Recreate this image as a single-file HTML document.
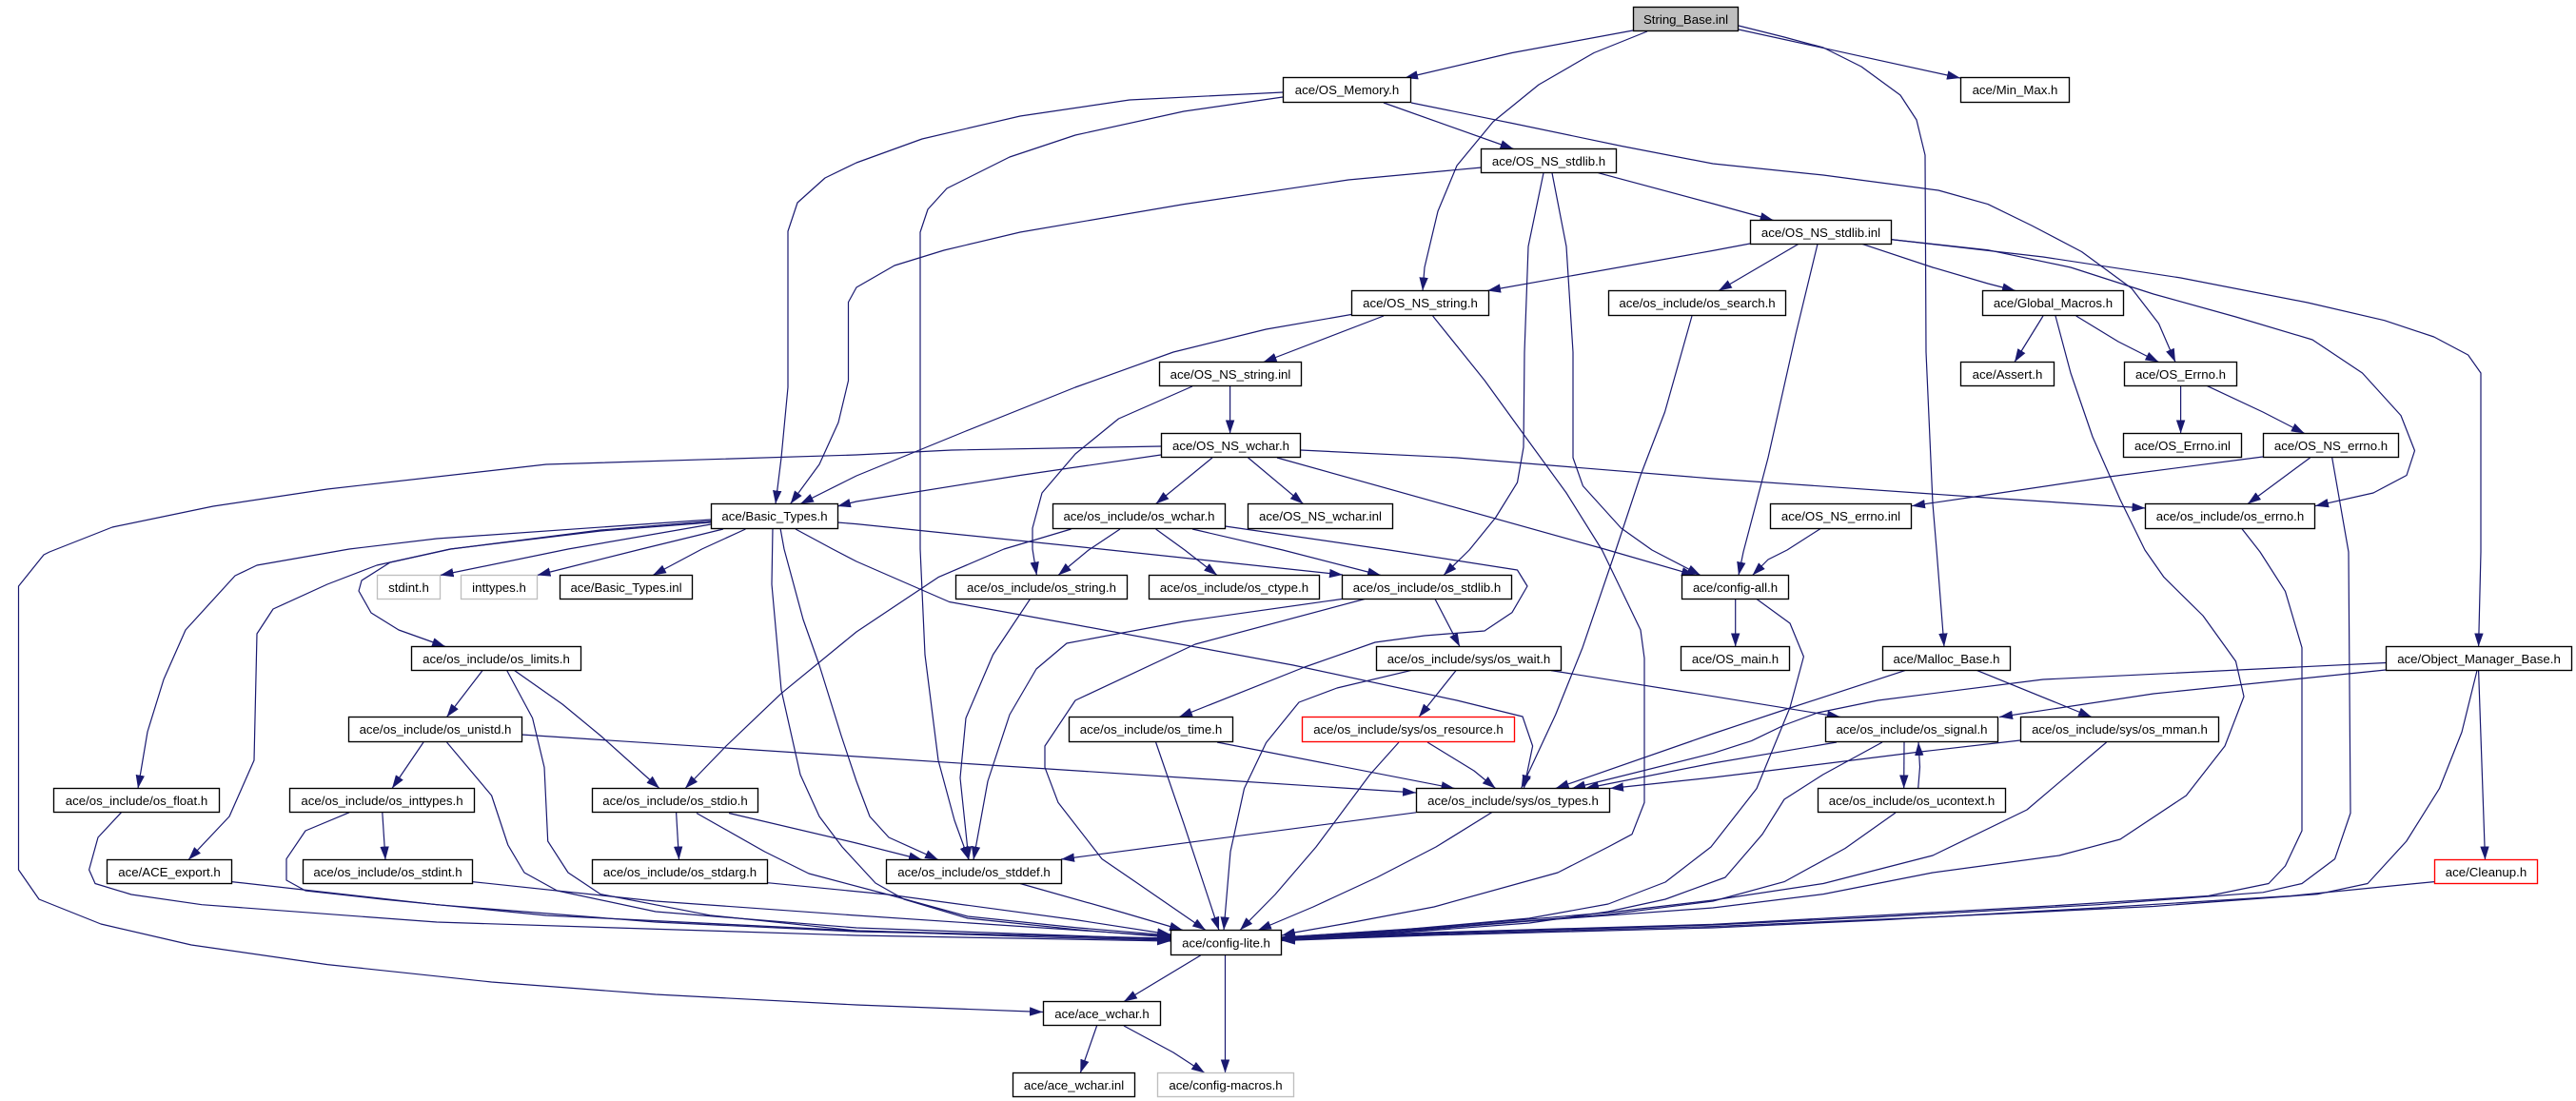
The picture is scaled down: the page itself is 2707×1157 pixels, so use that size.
<!DOCTYPE html>
<html><head><meta charset="utf-8"><title>String_Base.inl include graph</title>
<style>
html,body{margin:0;padding:0;background:#fff}
svg{display:block}
text{font-family:"Liberation Sans",sans-serif;font-size:13.25px;text-anchor:middle;fill:#000}
</style></head><body>
<svg width="2707" height="1157" viewBox="0 0 2707 1157" xmlns="http://www.w3.org/2000/svg">
<defs><marker id="a" markerUnits="userSpaceOnUse" markerWidth="14" markerHeight="10" refX="14" refY="5" orient="auto"><path d="M0,0.3L14,5L0,9.7z" fill="#191970"/></marker></defs>
<rect width="2707" height="1157" fill="#fff"/>
<g fill="none" stroke="#191970" stroke-width="1.2" stroke-linejoin="round" marker-end="url(#a)">
<path d="M1716,32L1589,55.5L1476,82"/>
<path d="M1731,33L1675,55.5L1617,89L1569,128L1531,174L1511,222L1497,281L1495,305.5"/>
<path d="M1827,31L2060,82"/>
<path d="M1827,27L1875,39L1916,50L1956,70L1997,100L2014,126L2023,163L2024,370L2031,529L2035,577L2043,679.5"/>
<path d="M1348,97L1187,105L1072,122L969,146L900,171L867,187L838,213L828,243L828,407L821,481L815,529.5"/>
<path d="M1348,102L1244,117L1130,142L1061,165L995,198L975,220L967,244L967,577L972,688L986,799L1003,862L1018,903.5"/>
<path d="M1454,108L1590.5,156.5"/>
<path d="M1483,108L1589,129.5L1704,153.5L1800,172L1916,184L2037,200L2089,214.6L2135,237L2187.5,264.5L2240,303L2268.5,340L2286,380.5"/>
<path d="M1557,176L1417,189L1244,214.6L1072,244L992,263L940,279L900,302L891.5,317.5L891.5,400L881,444L861,488L830.6,529.5"/>
<path d="M1622,181.7L1606,259L1602,370L1601,470L1594.5,507L1571.6,544L1544,578L1517,604.5"/>
<path d="M1631,181.7L1646,259L1653,370L1653,481L1663.4,510.6L1703.6,555L1736,578L1787,604.5"/>
<path d="M1679.5,181.7L1800,214L1863.6,231.5"/>
<path d="M1839,256L1800,263.4L1563,305.5"/>
<path d="M1890,256.4L1806,305.5"/>
<path d="M1910,256.4L1887,351.5L1858,481L1832,580L1827,604.5"/>
<path d="M1957,256.4L2031,281L2089,298L2118,305.5"/>
<path d="M1987,251.6L2089,262.7L2176,281L2263,309L2349.5,333L2430,357L2482.5,392L2523,436.6L2537.5,473.6L2529,499.5L2494,518L2433,531.7"/>
<path d="M1987,251.6L2147,270L2291.6,292L2425,318L2505.6,336.7L2557.7,354L2593.6,373L2607,392L2607,580L2604.6,679.5"/>
<path d="M1420.6,330.4L1330.5,346L1233,370L1130,407L1015,453L900,500L841,529.5"/>
<path d="M1454,332L1327.6,380.5"/>
<path d="M1505.6,332L1560,399.6L1603,459L1646,518L1683.5,578L1724,662L1728,691.7L1728,843.4L1715,876.7L1690,890L1637,917L1507,953L1417,970L1360,980L1347,983"/>
<path d="M1778,332L1749.5,433L1724,499.5L1698,578L1663,680.6L1634.7,751L1598.6,828.5"/>
<path d="M2147,332L2117,380.5"/>
<path d="M2181.7,332L2226,359L2268.5,380.5"/>
<path d="M2160,332L2176,392L2199,459L2228,525L2254,578L2274,606.6L2315,647L2349.5,695L2358,732L2338,784L2297.4,836L2228,882L2164,899L2031,917L1916,939.6L1800,954L1607,968L1473,979L1347,986"/>
<path d="M2291.6,405.6L2291.6,455.5"/>
<path d="M2319.4,405.6L2378,433L2421.8,455.5"/>
<path d="M2427.6,481L2362,529.5"/>
<path d="M2378,480L2216.4,501L2077.6,521.6L2009,531.7"/>
<path d="M1912.8,555.7L1878,578L1858,588L1841.6,604.5"/>
<path d="M1823.7,629.5L1823.7,679.5"/>
<path d="M2604.6,704.6L2611.5,903.5"/>
<path d="M1253,406L1175.5,440L1130,477L1095,518L1085,555L1085,577L1089.4,604.5"/>
<path d="M1292.6,406L1292.6,455.5"/>
<path d="M1220,478L1072,499.5L900,527L880,532"/>
<path d="M1220,469L1000,473L900,478L574,488L344,514L224,532L118,554L52,580L46,583L19.5,616L19.5,914L41,945L106,971L201,993L344,1013.6L516.6,1032L689,1045L900,1056L1096,1063.5"/>
<path d="M1274,481L1214.6,529.5"/>
<path d="M1311.6,481L1369.5,529.5"/>
<path d="M1366.7,473L1531,481L1800,503L2072,522L2254.5,534"/>
<path d="M1342,481L1686,577L1781,604.5"/>
<path d="M747,546L459,566L367,577L270,594L247,605L195,662L172,714L155,769L145,828.5"/>
<path d="M747,547.6L631,557L473.6,577L396,594L344,614L287,640L270,666L267,799L241,858L198,903.5"/>
<path d="M747,549L631,558L473,577L410,591L380,610L377,621L390,644L419,662L468,679.5"/>
<path d="M747,551L597,577L462.6,604.5"/>
<path d="M760,556L674,577L564.5,604.5"/>
<path d="M783.5,556L737.6,577L686,604.5"/>
<path d="M880,549L900,550.6L1157,577L1411,604"/>
<path d="M836,556L875,577L900,590L997.6,632.5L1130,656.5L1359,699L1531,736L1600,753L1610.6,784L1601.4,828.5"/>
<path d="M812,555L811,614L821,725L841,814L861,858L885,890L920,928L950,945L1017,965L1133,977L1230,985"/>
<path d="M820,555L824,577L844,651L861,699L884,773L900,821L914,858L934,880L986,903.5"/>
<path d="M1125.6,556L1055,577L986,606.6L900,664L821,728.7L763,784L720,828.5"/>
<path d="M1177,556L1144,578L1112,604.5"/>
<path d="M1214.6,556L1245,578L1279,604.5"/>
<path d="M1253,556L1348,578L1451,604.5"/>
<path d="M1287.5,553L1460,578L1594.5,599L1605,616L1589,643.6L1560,663L1497,668L1445,675L1371,701L1239,753.5"/>
<path d="M1434,629.5L1256,677L1130,736L1098,784L1098,806.4L1112,843.4L1158,902.6L1198,930L1267,977.5"/>
<path d="M1410,629.5L1244,653L1121,676L1089,703L1061,751L1038,821L1023,903.5"/>
<path d="M1082.5,629.5L1043.5,688L1015,754.6L1009,817.5L1018,903.5"/>
<path d="M1508,629.5L1534,679.5"/>
<path d="M1530,704.6L1491,753.5"/>
<path d="M1630,704.6L1800,731.7L1934,753.5"/>
<path d="M1482.6,704.6L1405,723L1365,738L1330.5,780.5L1307.5,828.6L1293,895L1286,977.5"/>
<path d="M1214.6,780L1244,865.6L1281,977.5"/>
<path d="M1470,780L1439.6,814L1383,890L1340,940L1303,977.5"/>
<path d="M1279,780L1528.5,828.5"/>
<path d="M1500,780L1549,810L1571.6,828.5"/>
<path d="M548,772L900,795L1488,833"/>
<path d="M2002,704.6L1878,745L1800,771L1634.7,828.5"/>
<path d="M2507,696.5L2147,714L1973.5,736L1910,749L1875,762L1840.5,778.6L1800,791.6L1652,828.5"/>
<path d="M2507,704L2263,729L2101,753.5"/>
<path d="M1930,780L1800,802L1666,828.5"/>
<path d="M2123,778L2014,790.5L1858,810L1800,817L1692,828.5"/>
<path d="M2077.6,704.6L2198,753.5"/>
<path d="M2001,780L2000.7,828.5"/>
<path d="M2015.7,828.5L2017.5,806L2016,780"/>
<path d="M1978,780L1915.7,814L1875,840L1852,876.7L1813,922L1750,945L1690,958L1607,970L1473,980L1347,986"/>
<path d="M1992,854L1939,891.5L1875,926.6L1800,947L1690,961L1500,976L1347,986"/>
<path d="M2213.6,780L2130,851L2031,899L1916,928.5L1800,946L1690,959L1500,975L1347,985"/>
<path d="M1846,629.5L1881,655L1895.4,690L1881,743.5L1846,828.6L1798,890L1750,927L1690,950L1607,965L1473,977L1347,985"/>
<path d="M1567.6,853.8L1509,890L1447,922L1380,953L1322,977.5"/>
<path d="M1488,853.8L1115,903"/>
<path d="M1072,928.5L1180,959L1243,977.5"/>
<path d="M2603,704.6L2587,769.4L2563.5,828.6L2528.8,884L2488,928.5L2436,939.6L2263,952.5L2031,963.7L1800,973.6L1500,982L1347,988"/>
<path d="M2558,926.6L2407,941.5L2205,954L1973.5,967L1800,975L1500,983L1347,988.5"/>
<path d="M2450.7,481L2468,580L2470,854.5L2453.6,902.6L2419,928.5L2378,937.8L2205,950.7L1973.5,963.6L1800,972L1500,981L1347,987"/>
<path d="M2356,555.7L2375,580L2401.5,621.4L2419,680.6L2419,873L2401.5,910L2384,928.5L2320.6,941.5L2147,952.5L1973.5,962L1800,971.4L1500,980L1347,986.5"/>
<path d="M507,704.6L469.5,753.5"/>
<path d="M540.7,704.6L591,740L631,773L693,828.5"/>
<path d="M532.7,704.6L559.6,754.6L572,806.4L575.7,884L597,917L631,939.6L746,961.8L900,978L1100,985L1230,988"/>
<path d="M445,780L412,828.5"/>
<path d="M469.5,780L516.6,836L533.8,888L551,917L585.5,936L689,958L900,975L1230,987"/>
<path d="M401.8,853.8L405,903.5"/>
<path d="M367,853.8L321,873L301,902.6L301,925L321,936L402,945L574,962L900,978L1230,987"/>
<path d="M710.6,853.8L713.5,903.5"/>
<path d="M732,854.5L803.6,895L850,918L933,940L1017,963L1133,975L1230,983"/>
<path d="M766,854.5L900,886L969,903.5"/>
<path d="M127.4,853.8L103,880L93.6,914L100,928.5L138,940L212,950.7L459,969L900,983L1230,989"/>
<path d="M243.4,926.6L459,950.7L689,969L900,979L1230,986"/>
<path d="M496.5,926.6L689,947L900,962L1230,984"/>
<path d="M806.5,927.7L933,940L1133,967L1230,982"/>
<path d="M1261.6,1004L1181,1052.5"/>
<path d="M1287.5,1004L1287.5,1127.5"/>
<path d="M1152.6,1078L1135.3,1127.5"/>
<path d="M1181,1078L1233,1106L1266,1127.5"/>
</g>
<g fill="#fff" stroke="#000" stroke-width="1.35">
<rect x="1716.5" y="7.5" width="110" height="25" fill="#bfbfbf"/>
<rect x="1348.5" y="81.5" width="134" height="26"/>
<rect x="2060.5" y="81.5" width="114" height="26"/>
<rect x="1556.5" y="156.5" width="142" height="25"/>
<rect x="1839.5" y="231.5" width="148" height="25"/>
<rect x="1420.5" y="305.5" width="144" height="26"/>
<rect x="1690.5" y="305.5" width="186" height="26"/>
<rect x="2083.5" y="305.5" width="148" height="26"/>
<rect x="1218.5" y="380.5" width="149" height="25"/>
<rect x="2060.5" y="380.5" width="98" height="25"/>
<rect x="2232.5" y="380.5" width="118" height="25"/>
<rect x="1220.5" y="455.5" width="146" height="25"/>
<rect x="2231.5" y="455.5" width="124" height="25"/>
<rect x="2378.5" y="455.5" width="142" height="25"/>
<rect x="747.5" y="529.5" width="133" height="26"/>
<rect x="1106.5" y="529.5" width="181" height="26"/>
<rect x="1311.5" y="529.5" width="152" height="26"/>
<rect x="1860.5" y="529.5" width="148" height="26"/>
<rect x="2254.5" y="529.5" width="178" height="26"/>
<rect x="396.5" y="604.5" width="66" height="25" stroke="#bfbfbf"/>
<rect x="484.5" y="604.5" width="80" height="25" stroke="#bfbfbf"/>
<rect x="588.5" y="604.5" width="139" height="25"/>
<rect x="1004.5" y="604.5" width="180" height="25"/>
<rect x="1207.5" y="604.5" width="179" height="25"/>
<rect x="1410.5" y="604.5" width="178" height="25"/>
<rect x="1767.5" y="604.5" width="112" height="25"/>
<rect x="432.5" y="679.5" width="178" height="25"/>
<rect x="1446.5" y="679.5" width="194" height="25"/>
<rect x="1766.5" y="679.5" width="114" height="25"/>
<rect x="1978.5" y="679.5" width="134" height="25"/>
<rect x="2507.5" y="679.5" width="195" height="25"/>
<rect x="366.5" y="753.5" width="182" height="26"/>
<rect x="1123.5" y="753.5" width="172" height="26"/>
<rect x="1368.5" y="753.5" width="223" height="26" stroke="#f00"/>
<rect x="1918.5" y="753.5" width="181" height="26"/>
<rect x="2123.5" y="753.5" width="208" height="26"/>
<rect x="56.5" y="828.5" width="174" height="25"/>
<rect x="304.5" y="828.5" width="194" height="25"/>
<rect x="622.5" y="828.5" width="174" height="25"/>
<rect x="1488.5" y="828.5" width="203" height="25"/>
<rect x="1910.5" y="828.5" width="197" height="25"/>
<rect x="112.5" y="903.5" width="131" height="25"/>
<rect x="318.5" y="903.5" width="178" height="25"/>
<rect x="622.5" y="903.5" width="184" height="25"/>
<rect x="931.5" y="903.5" width="184" height="25"/>
<rect x="2558.5" y="903.5" width="108" height="25" stroke="#f00"/>
<rect x="1230.5" y="977.5" width="116" height="26"/>
<rect x="1096.5" y="1052.5" width="123" height="25"/>
<rect x="1064.5" y="1127.5" width="128" height="25"/>
<rect x="1216.5" y="1127.5" width="143" height="25" stroke="#bfbfbf"/>
</g>
<g>
<text x="1771.5" y="25">String_Base.inl</text>
<text x="1415.5" y="99">ace/OS_Memory.h</text>
<text x="2117.5" y="99">ace/Min_Max.h</text>
<text x="1627.5" y="174">ace/OS_NS_stdlib.h</text>
<text x="1913.5" y="249">ace/OS_NS_stdlib.inl</text>
<text x="1492.5" y="323">ace/OS_NS_string.h</text>
<text x="1783.5" y="323">ace/os_include/os_search.h</text>
<text x="2157.5" y="323">ace/Global_Macros.h</text>
<text x="1293" y="398">ace/OS_NS_string.inl</text>
<text x="2109.5" y="398">ace/Assert.h</text>
<text x="2291.5" y="398">ace/OS_Errno.h</text>
<text x="1293.5" y="473">ace/OS_NS_wchar.h</text>
<text x="2293.5" y="473">ace/OS_Errno.inl</text>
<text x="2449.5" y="473">ace/OS_NS_errno.h</text>
<text x="814" y="547">ace/Basic_Types.h</text>
<text x="1197" y="547">ace/os_include/os_wchar.h</text>
<text x="1387.5" y="547">ace/OS_NS_wchar.inl</text>
<text x="1934.5" y="547">ace/OS_NS_errno.inl</text>
<text x="2343.5" y="547">ace/os_include/os_errno.h</text>
<text x="429.5" y="622">stdint.h</text>
<text x="524.5" y="622">inttypes.h</text>
<text x="658" y="622">ace/Basic_Types.inl</text>
<text x="1094.5" y="622">ace/os_include/os_string.h</text>
<text x="1297" y="622">ace/os_include/os_ctype.h</text>
<text x="1499.5" y="622">ace/os_include/os_stdlib.h</text>
<text x="1823.5" y="622">ace/config-all.h</text>
<text x="521.5" y="697">ace/os_include/os_limits.h</text>
<text x="1543.5" y="697">ace/os_include/sys/os_wait.h</text>
<text x="1823.5" y="697">ace/OS_main.h</text>
<text x="2045.5" y="697">ace/Malloc_Base.h</text>
<text x="2605" y="697">ace/Object_Manager_Base.h</text>
<text x="457.5" y="771">ace/os_include/os_unistd.h</text>
<text x="1209.5" y="771">ace/os_include/os_time.h</text>
<text x="1480" y="771">ace/os_include/sys/os_resource.h</text>
<text x="2009" y="771">ace/os_include/os_signal.h</text>
<text x="2227.5" y="771">ace/os_include/sys/os_mman.h</text>
<text x="143.5" y="846">ace/os_include/os_float.h</text>
<text x="401.5" y="846">ace/os_include/os_inttypes.h</text>
<text x="709.5" y="846">ace/os_include/os_stdio.h</text>
<text x="1590" y="846">ace/os_include/sys/os_types.h</text>
<text x="2009" y="846">ace/os_include/os_ucontext.h</text>
<text x="178" y="921">ace/ACE_export.h</text>
<text x="407.5" y="921">ace/os_include/os_stdint.h</text>
<text x="714.5" y="921">ace/os_include/os_stdarg.h</text>
<text x="1023.5" y="921">ace/os_include/os_stddef.h</text>
<text x="2612.5" y="921">ace/Cleanup.h</text>
<text x="1288.5" y="995.5">ace/config-lite.h</text>
<text x="1158" y="1070">ace/ace_wchar.h</text>
<text x="1128.5" y="1145">ace/ace_wchar.inl</text>
<text x="1288" y="1145">ace/config-macros.h</text>
</g>
</svg>
</body></html>
